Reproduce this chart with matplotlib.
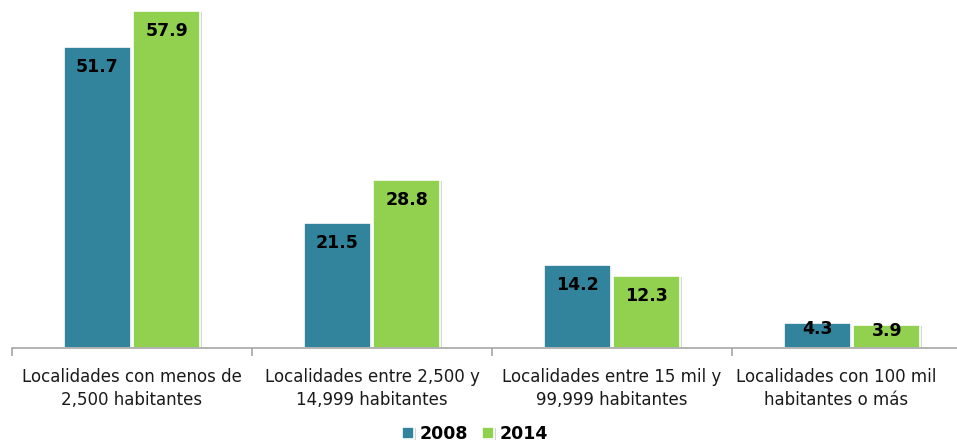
import matplotlib.pyplot as plt
import matplotlib.patheffects as pe
import matplotlib.transforms as mtransforms
import numpy as np

# Datos
categorias = ["Localidades con menos de\n2,500 habitantes",
              "Localidades entre 2,500 y\n14,999 habitantes",
              "Localidades entre 15 mil y\n99,999 habitantes",
              "Localidades con 100 mil\nhabitantes o más"]
valores_2008 = [51.7, 21.5, 14.2, 4.3]
valores_2014 = [57.9, 28.8, 12.3, 3.9]
series = ["2008", "2014"]

color_2008 = "#31849B"
color_2014 = "#92D050"

fig = plt.figure(figsize=(9.57, 4.43), dpi=100)
ax = fig.add_axes([12 / 957, (443 - 347.5) / 443, 1 - 12 / 957, 347.5 / 443])

x = np.arange(len(categorias))
ancho = 0.28
sombra = [pe.SimplePatchShadow(offset=(1.2, -0.8), shadow_rgbFace="#888888", alpha=0.35), pe.Normal()]

b1 = ax.bar(x - ancho / 2 - 0.005, valores_2008, ancho, color=color_2008,
            edgecolor="white", linewidth=1.2, label=series[0], path_effects=sombra)
b2 = ax.bar(x + ancho / 2 + 0.005, valores_2014, ancho, color=color_2014,
            edgecolor="white", linewidth=1.2, label=series[1], path_effects=sombra)

# Etiquetas dentro de las barras (arriba)
for barras in (b1, b2):
    for r in barras:
        h = r.get_height()
        desp = -20 if h > 8 else -6
        ax.annotate(f"{h:.1f}", (r.get_x() + r.get_width() / 2, h),
                    xytext=(0, desp), textcoords="offset pixels",
                    ha="center", va="center", fontsize=12.5, fontweight="bold", color="black")

ax.set_xlim(-0.5, -0.5 + 945 / 240)
ax.set_ylim(0, 59.8)
ax.set_yticks([])
for s in ["top", "right", "left"]:
    ax.spines[s].set_visible(False)
ax.spines["bottom"].set_color("#A6A6A6")
ax.spines["bottom"].set_linewidth(1.2)

ax.set_xticks(x)
ax.set_xticklabels(categorias, fontsize=12, color="#1a1a1a", linespacing=1.3)
ax.tick_params(axis="x", which="major", length=0, pad=15)
ax.set_xticks([-0.5, 0.5, 1.5, 2.5], minor=True)
ax.tick_params(axis="x", which="minor", length=6, color="#A6A6A6", width=1.2, direction="out")

# la última etiqueta queda algo desplazada a la izquierda, como en el original
ultima = ax.get_xticklabels()[-1]
ultima.set_transform(ultima.get_transform() + mtransforms.ScaledTranslation(-0.16, 0, fig.dpi_scale_trans))

ax.legend(loc="center", bbox_to_anchor=(0.49, -0.25), ncol=2, frameon=False,
          prop={"weight": "bold", "size": 12.5}, handlelength=0.7, handleheight=0.7,
          handletextpad=0.3, columnspacing=0.8, borderpad=0)

fig.savefig("out.png", dpi=100)
